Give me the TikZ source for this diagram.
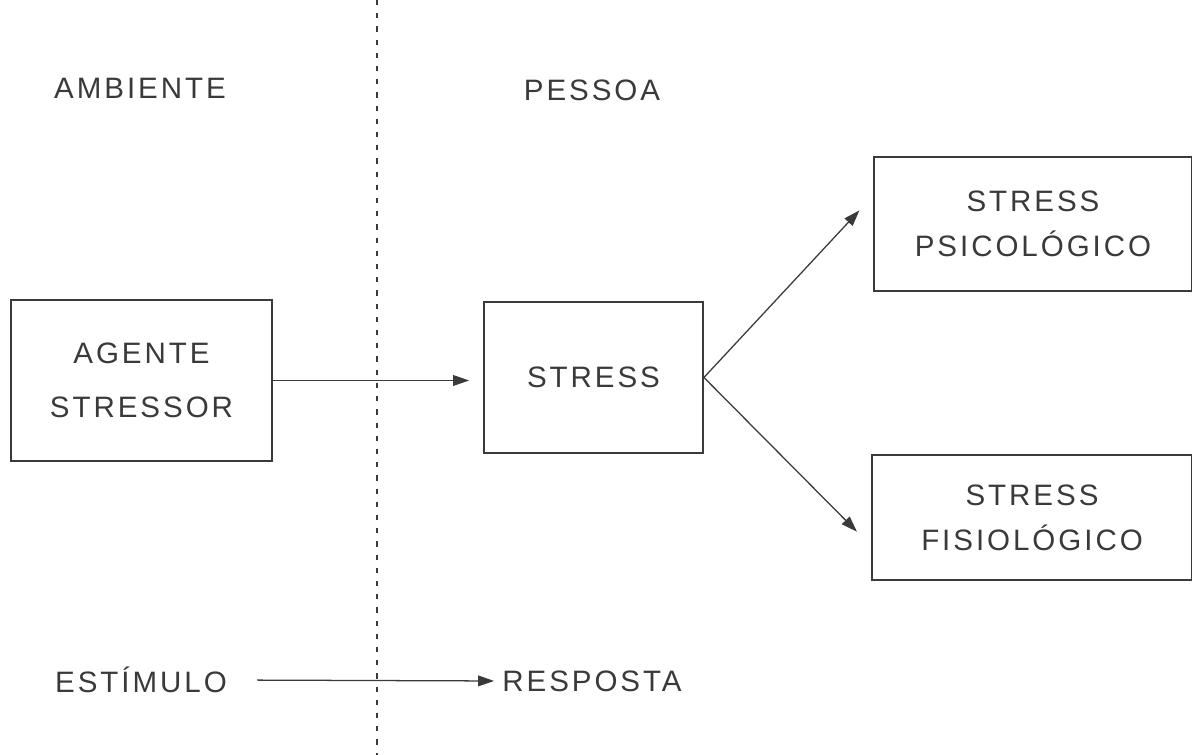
\documentclass[tikz,border=0pt]{standalone}
\usepackage{fontspec}
\setmainfont{Liberation Sans}[LetterSpace=10]
\usetikzlibrary{arrows.meta}
\definecolor{ink}{HTML}{3A3A3A}

\begin{document}
\begin{tikzpicture}[x=0.025cm,y=-0.025cm,>={Triangle[length=4mm,width=2.7mm]},
    box/.style={rectangle,draw=ink,line width=1.3pt,align=center,text=ink,font=\fontsize{21}{32}\selectfont},
    tag node/.style={inner sep=0pt,text=ink,font=\fontsize{21}{24}\selectfont},
    flow/.style={->,draw=ink,line width=0.9pt}]

    \fill[white] (0,0) rectangle (1192,755);
    \useasboundingbox (0,0) rectangle (1192,755);
    \clip (0,0) rectangle (1192,755);

    % divisao ambiente / pessoa
    \coordinate (top) at (377,0);
    \coordinate (bot) at (377,755);
    \draw[ink,line width=0.8pt,dash pattern=on 0.13cm off 0.2cm] (top) -- (bot);

    \node[tag node] (ambiente) at (140,88) {AMBIENTE};
    \node[tag node] (pessoa) at (592,90) {PESSOA};

    \node[box,minimum width=6.525cm,minimum height=4.025cm] (agente) at (141.5,380.5) {AGENTE\\[6pt]STRESSOR};
    \node[box,minimum width=5.475cm,minimum height=3.775cm] (stress) at (593.5,377.5) {STRESS};
    \node[box,minimum width=7.95cm,minimum height=3.35cm] (psico) at (1033,224) {STRESS\\PSICOLÓGICO};
    \node[box,minimum width=8cm,minimum height=3.125cm] (fisio) at (1032,517.5) {STRESS\\FISIOLÓGICO};

    \node[tag node] (estimulo) at (141,680) {ESTÍMULO};
    \node[tag node] (resposta) at (592,681) {RESPOSTA};

    \draw[flow,shorten >=0.35cm] (agente.east) -- (agente.east -| stress.west);
    \draw[flow,shorten >=0.5cm] (stress.east) -- (psico.170);
    \draw[flow,shorten >=0.5cm] (stress.east) -- (fisio.190);
    \draw[flow,shorten <=0.75cm,shorten >=0.2cm] (estimulo.east) -- (resposta.west);

\end{tikzpicture}
\end{document}
